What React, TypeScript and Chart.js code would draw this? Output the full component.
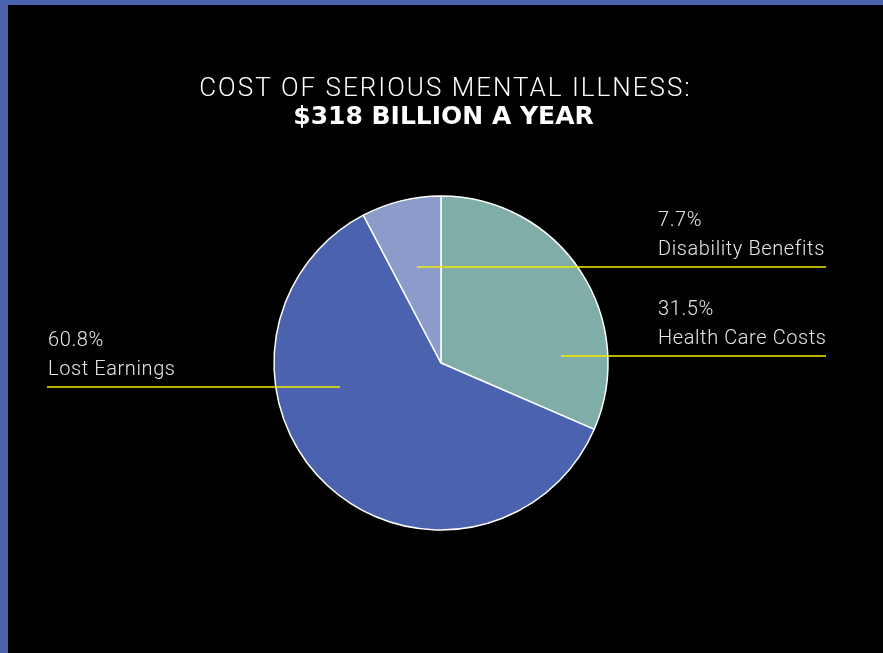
import React, { useEffect, useRef } from "react";
import { Chart, registerables } from "chart.js";

Chart.register(...registerables);

// ---- data ----
const categories = ["Health Care Costs", "Lost Earnings", "Disability Benefits"];
const shares = [31.5, 60.8, 7.7];
const titleLine = "COST OF SERIOUS MENTAL ILLNESS:";
const subtitleLine = "$318 BILLION A YEAR";

// ---- styles / layout ----
const sliceColors = ["#80ADA8", "#4B63AE", "#8B9CCB"];
const pageBlue = "#4B63AE";
const lineYellow = "#F5EC00";
const labelColor = "#E6E6E6";

// label layout, offsets measured from the pie centre (px)
const labelLayout = [
  { side: "right", lineDy: -7, innerDx: 120, textDx: 217, outerDx: 385 },
  { side: "left", lineDy: 24, innerDx: -101, textDx: -393, outerDx: -394 },
  { side: "right", lineDy: -96, innerDx: -24, textDx: 217, outerDx: 385 },
];

const W = 875;
const H = 648;

const annotationPlugin = {
  id: "calloutLabels",
  afterDraw(chart: any) {
    const ctx = chart.ctx as CanvasRenderingContext2D;
    // titles
    ctx.save();
    ctx.fillStyle = "#FFFFFF";
    ctx.textAlign = "center";
    ctx.textBaseline = "alphabetic";
    (ctx as any).letterSpacing = "2px";
    ctx.font = "300 26px Roboto";
    ctx.fillText(titleLine, chart.width / 2, 91);
    (ctx as any).letterSpacing = "0px";
    ctx.font = "bold 25px 'DejaVu Sans'";
    ctx.fillText(subtitleLine, chart.width / 2 - 2, 119);
    ctx.restore();

    const meta = chart.getDatasetMeta(0);
    const arc = meta.data[0];
    if (!arc) return;
    const { x: cx, y: cy } = arc.getProps(["x", "y"], true);

    ctx.save();
    ctx.textBaseline = "alphabetic";
    categories.forEach((name, i) => {
      const L = labelLayout[i];
      const ly = cy + L.lineDy;
      ctx.strokeStyle = lineYellow;
      ctx.lineWidth = 1.5;
      ctx.beginPath();
      ctx.moveTo(cx + L.innerDx, ly);
      ctx.lineTo(cx + L.outerDx, ly);
      ctx.stroke();

      ctx.fillStyle = labelColor;
      ctx.font = "300 20px Roboto";
      (ctx as any).letterSpacing = "0.6px";
      ctx.textAlign = "left";
      const tx = cx + L.textDx;
      ctx.fillText(`${shares[i].toFixed(1)}%`, tx, ly - 41);
      ctx.fillText(name, tx, ly - 12);
    });
    ctx.restore();
  },
};

export default function App() {
  const canvasRef = useRef<HTMLCanvasElement | null>(null);

  useEffect(() => {
    if (!canvasRef.current) return;
    const chart = new Chart(canvasRef.current, {
      type: "pie",
      data: {
        labels: categories,
        datasets: [
          {
            data: shares,
            backgroundColor: sliceColors,
            borderColor: "#FFFFFF",
            borderWidth: 1.5,
          },
        ],
      },
      options: {
        animation: false,
        responsive: false,
        events: [],
        radius: 167,
        layout: { padding: { left: 0, right: 9, top: 68, bottom: 0 } },
        plugins: {
          legend: { display: false },
          tooltip: { enabled: false },
          title: { display: false },
        },
      } as any,
      plugins: [annotationPlugin],
    });
    return () => chart.destroy();
  }, []);

  return (
    <div
      style={{
        position: "fixed",
        left: 0,
        top: 0,
        width: 883,
        height: 653,
        background: pageBlue,
        overflow: "hidden",
      }}
    >
      <div
        style={{
          position: "absolute",
          left: 8,
          top: 5,
          width: W,
          height: H,
          background: "#000000",
        }}
      >
        <canvas ref={canvasRef} width={W} height={H} style={{ display: "block" }} />
      </div>
    </div>
  );
}
